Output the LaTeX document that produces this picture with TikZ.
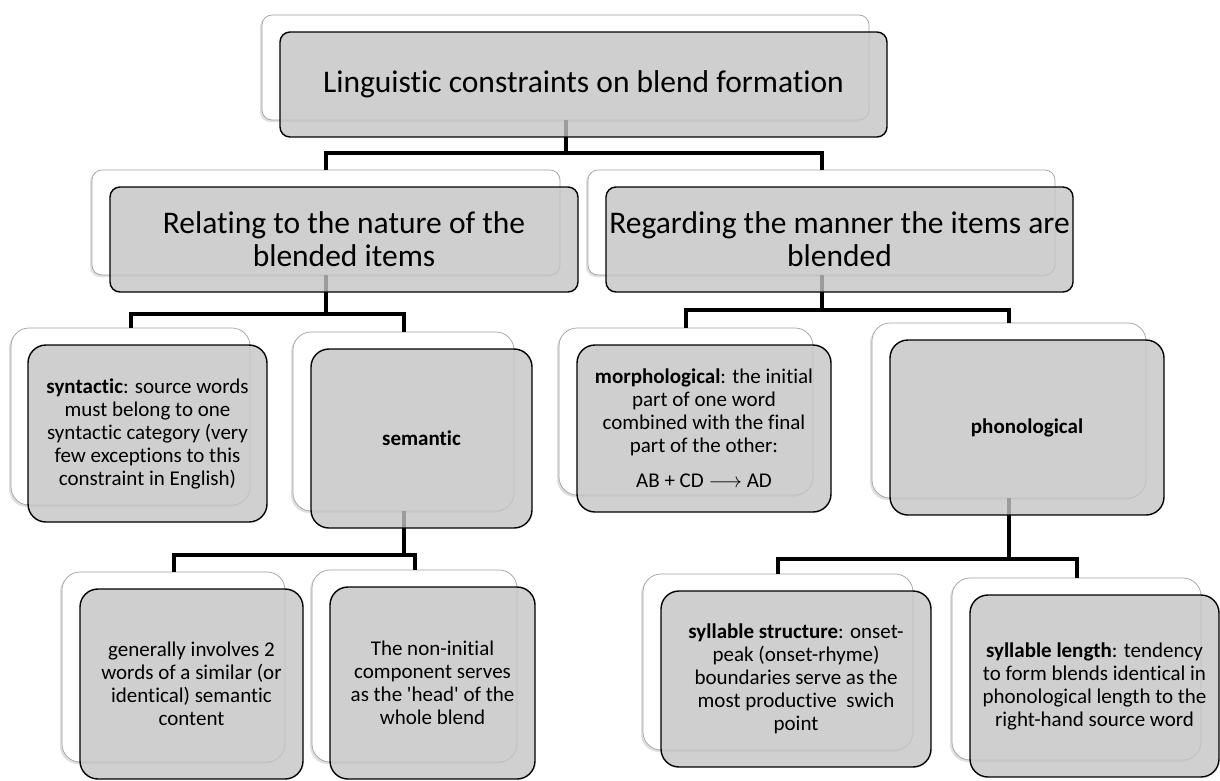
\documentclass[tikz,border=0pt]{standalone}
\usepackage{fontspec}
\setmainfont{Carlito}[Ligatures={TeX,NoCommon}, Contextuals=NoAlternate]
\usetikzlibrary{shadows}
\definecolor{boxgray}{RGB}{196,196,196}
\definecolor{edgegray}{RGB}{160,160,160}

\begin{document}
\begin{tikzpicture}[x=1pt,y=-1pt]
\tikzstyle{every node}+=[inner sep=0pt]
\tikzstyle{backbox}=[draw=edgegray, line width=0.7pt, fill=white, rounded corners=10pt, drop shadow={shadow xshift=-2pt, shadow yshift=-2pt, opacity=0.25}]
\tikzstyle{frontbox}=[draw=black, line width=1.4pt, fill=boxgray, fill opacity=0.8, text opacity=1, rounded corners=10pt, align=center]
\tikzstyle{bigtext}=[font=\fontsize{31.5}{33}\selectfont]
\tikzstyle{smalltext}=[font=\fontsize{21}{23}\selectfont, rounded corners=18pt]
\tikzstyle{elbow}=[line width=4pt]
\useasboundingbox (0,0) rectangle (1220,780);
\node[backbox, minimum width=607, minimum height=105] (topb) at (565.5,67.5) {};
\node[backbox, minimum width=468, minimum height=105] (relb) at (326,222.5) {};
\node[backbox, minimum width=467, minimum height=105] (regb) at (821.5,222.5) {};
\node[backbox, smalltext, minimum width=239, minimum height=177] (synb) at (130.5,416.5) {};
\node[backbox, smalltext, minimum width=221, minimum height=179] (semb) at (403.5,421.5) {};
\node[backbox, smalltext, minimum width=254, minimum height=167] (morb) at (686,411.5) {};
\node[backbox, smalltext, minimum width=274, minimum height=175] (phob) at (1009,410.5) {};
\node[backbox, smalltext, minimum width=223, minimum height=190] (genb) at (173.5,667) {};
\node[backbox, smalltext, minimum width=205, minimum height=192] (nonb) at (414.5,666) {};
\node[backbox, smalltext, minimum width=270, minimum height=176] (strb) at (778,662) {};
\node[backbox, smalltext, minimum width=249, minimum height=182] (lenb) at (1076.5,669) {};
\coordinate (m0) at (0,153);
\coordinate (m1) at (0,314);
\coordinate (m2) at (0,310);
\coordinate (m3) at (0,555);
\coordinate (m4) at (0,559);
\draw[elbow] (topb.south) -- (topb.south |- m0) -| (relb.north);
\draw[elbow] (topb.south) -- (topb.south |- m0) -| (regb.north);
\draw[elbow] (relb.south) -- (relb.south |- m1) -| (synb.north);
\draw[elbow] (relb.south) -- (relb.south |- m1) -| (semb.north);
\draw[elbow] (regb.south) -- (regb.south |- m2) -| (morb.north);
\draw[elbow] (regb.south) -- (regb.south |- m2) -| (phob.north);
\draw[elbow] (semb.south) -- (semb.south |- m3) -| (genb.north);
\draw[elbow] (semb.south) -- (semb.south |- m3) -| (nonb.north);
\draw[elbow] (phob.south) -- (phob.south |- m4) -| (strb.north);
\draw[elbow] (phob.south) -- (phob.south |- m4) -| (lenb.north);
\node[frontbox, bigtext, minimum width=607, minimum height=105] (top) at (583.5,84.5) {Linguistic constraints on blend formation};
\node[frontbox, bigtext, minimum width=468, minimum height=105] (rel) at (344,239.5) {Relating to the nature of the\\blended items};
\node[frontbox, bigtext, minimum width=467, minimum height=105] (reg) at (839.5,239.5) {Regarding the manner the items are\\blended};
\node[frontbox, smalltext, minimum width=239, minimum height=177] (syn) at (147.5,433.5) {\textbf{syntactic}: source words\\must belong to one\\syntactic category (very\\few exceptions to this\\constraint in English)};
\node[frontbox, smalltext, minimum width=221, minimum height=179] (sem) at (421.5,438.5) {\textbf{semantic}};
\node[frontbox, smalltext, minimum width=254, minimum height=167] (mor) at (704,428.5) {\textbf{morphological}: the initial\\part of one word\\combined with the final\\part of the other:\\[12pt]AB + CD $\longrightarrow$ AD};
\node[frontbox, smalltext, minimum width=274, minimum height=175] (pho) at (1027,427.5) {\textbf{phonological}};
\node[frontbox, smalltext, minimum width=223, minimum height=190] (gen) at (191.5,684) {generally involves 2\\words of a similar (or\\identical) semantic\\content};
\node[frontbox, smalltext, minimum width=205, minimum height=192] (non) at (432.5,683) {The non-initial\\component serves\\as the \textquotesingle head\textquotesingle{} of the\\whole blend};
\node[frontbox, smalltext, minimum width=270, minimum height=176] (str) at (796,679) {\textbf{syllable structure}: onset-\\peak (onset-rhyme)\\boundaries serve as the\\most productive\ \ swich\\point};
\node[frontbox, smalltext, minimum width=249, minimum height=182] (len) at (1094.5,686) {\textbf{syllable length}: tendency\\to form blends identical in\\phonological length to the\\right-hand source word};
\end{tikzpicture}
\end{document}
